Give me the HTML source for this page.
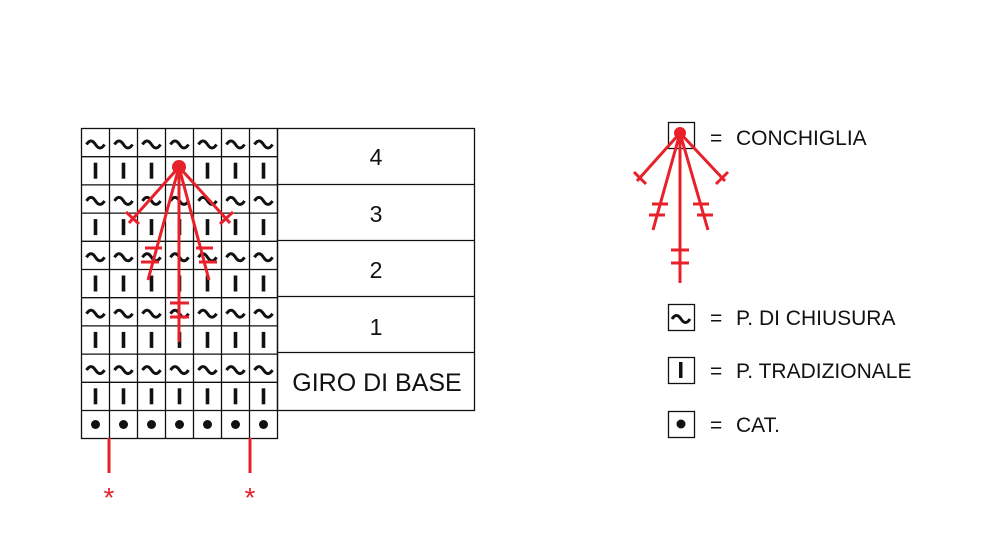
<!DOCTYPE html>
<html><head><style>body{margin:0;background:#fff}svg{display:block}</style></head><body>
<svg width="1000" height="560" viewBox="0 0 1000 560" xmlns="http://www.w3.org/2000/svg" font-family="Liberation Sans, sans-serif">
<g stroke="#111" stroke-width="1.3" fill="none">
<rect x="81.5" y="128.5" width="196" height="310"/>
<rect x="277.5" y="128.5" width="197" height="282"/>
<line x1="277" y1="184.5" x2="475" y2="184.5"/>
<line x1="277" y1="240.5" x2="475" y2="240.5"/>
<line x1="277" y1="296.5" x2="475" y2="296.5"/>
<line x1="277" y1="352.5" x2="475" y2="352.5"/>
<g id="lines"></g>
<rect x="668.5" y="122.5" width="26" height="26"/>
<rect x="668.5" y="304.5" width="26" height="26"/>
<rect x="668.5" y="357.5" width="26" height="26"/>
<rect x="668.5" y="411.5" width="26" height="26"/>
</g>
<g id="grid"></g>
<g font-size="23" fill="#111" text-anchor="middle">
<text x="376" y="165">4</text><text x="376" y="222">3</text><text x="376" y="278">2</text><text x="376" y="335">1</text>
<text x="377" y="391" font-size="25">GIRO DI BASE</text>
</g>
<g font-size="21" fill="#111">
<text x="710" y="145">=</text><text x="736" y="145">CONCHIGLIA</text>
<text x="710" y="325">=</text><text x="736" y="325">P. DI CHIUSURA</text>
<text x="710" y="378">=</text><text x="736" y="378">P. TRADIZIONALE</text>
<text x="710" y="432">=</text><text x="736" y="432">CAT.</text>
</g>
<path d="M672 319 q4.5 -7 9 0 t9 0" stroke="#111" stroke-width="3" fill="none"/>
<rect x="679" y="362" width="3.5" height="16" fill="#111"/>
<circle cx="681" cy="424" r="4.5" fill="#111"/>
<g stroke="#e8202a" stroke-width="3" fill="none" stroke-linecap="butt">
<line x1="109" y1="438" x2="109" y2="473"/><line x1="250" y1="438" x2="250" y2="473"/>
<line x1="179" y1="167" x2="129" y2="223"/><line x1="126" y1="212" x2="139" y2="224"/>
<line x1="179" y1="167" x2="230" y2="223"/><line x1="220" y1="224" x2="233" y2="212"/>
<line x1="179" y1="167" x2="148" y2="280"/><line x1="145" y1="248" x2="162" y2="248"/><line x1="141" y1="262" x2="159" y2="262"/>
<line x1="179" y1="167" x2="209" y2="280"/><line x1="196" y1="248" x2="213" y2="248"/><line x1="199" y1="262" x2="217" y2="262"/>
<line x1="179" y1="167" x2="179" y2="342"/><line x1="170" y1="303" x2="189" y2="303"/><line x1="170" y1="317" x2="189" y2="317"/>
<line x1="680" y1="133" x2="637" y2="181"/><line x1="634" y1="172" x2="646" y2="184"/>
<line x1="680" y1="133" x2="725" y2="181"/><line x1="716" y1="184" x2="728" y2="172"/>
<line x1="680" y1="133" x2="653" y2="230"/><line x1="652" y1="204" x2="668" y2="204"/><line x1="649" y1="215" x2="665" y2="215"/>
<line x1="680" y1="133" x2="708" y2="230"/><line x1="693" y1="204" x2="709" y2="204"/><line x1="697" y1="215" x2="713" y2="215"/>
<line x1="680" y1="133" x2="680" y2="283"/><line x1="671" y1="250" x2="689" y2="250"/><line x1="671" y1="263" x2="689" y2="263"/>
</g>
<circle cx="179" cy="167" r="7" fill="#e8202a"/>
<circle cx="680" cy="133" r="6" fill="#e8202a"/>
<g font-size="28" fill="#e8202a" text-anchor="middle"><text x="109" y="507">*</text><text x="250" y="507">*</text></g>
<script>
var ns="http://www.w3.org/2000/svg",L=document.getElementById('lines'),G=document.getElementById('grid');
for(var i=1;i<7;i++){var l=document.createElementNS(ns,'line');var x=81.5+i*28;l.setAttribute('x1',x);l.setAttribute('x2',x);l.setAttribute('y1',128);l.setAttribute('y2',438);L.appendChild(l);}
for(var r=1;r<11;r++){var y=128.5+r*28.2;var l=document.createElementNS(ns,'line');l.setAttribute('x1',81);l.setAttribute('x2',278);l.setAttribute('y1',y);l.setAttribute('y2',y);L.appendChild(l);}
for(var r=0;r<11;r++){var cy=128.5+r*28.2+14;for(var c=0;c<7;c++){var cx=81.5+c*28+14;var e;
if(r==10){e=document.createElementNS(ns,'circle');e.setAttribute('cx',cx);e.setAttribute('cy',cy);e.setAttribute('r',4.5);e.setAttribute('fill','#111');}
else if(r%2==0){e=document.createElementNS(ns,'path');e.setAttribute('d','M'+(cx-9)+' '+(cy+2)+' q4.5 -7 9 0 t9 0');e.setAttribute('stroke','#111');e.setAttribute('stroke-width','3');e.setAttribute('fill','none');}
else{e=document.createElementNS(ns,'rect');e.setAttribute('x',cx-1.8);e.setAttribute('y',cy-8);e.setAttribute('width',3.6);e.setAttribute('height',16);e.setAttribute('fill','#111');}
G.appendChild(e);}}
</script>
</svg>
</body></html>
